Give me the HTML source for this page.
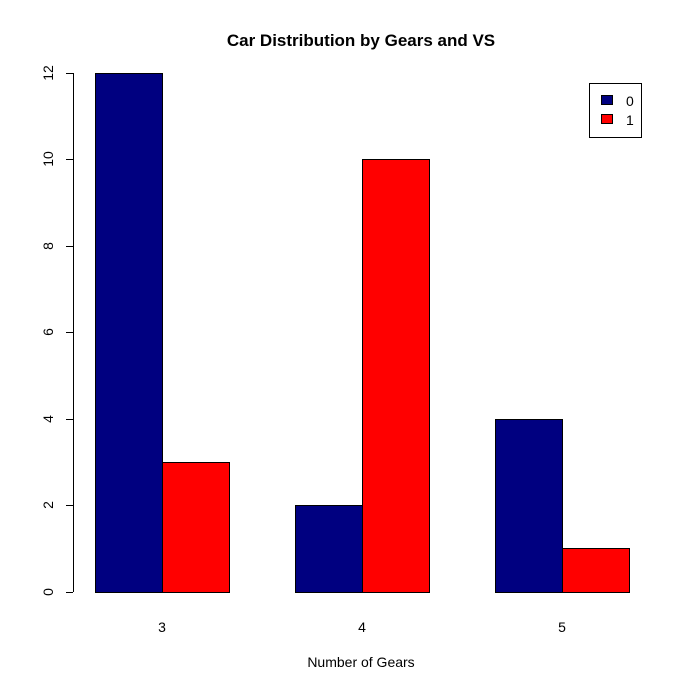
<!DOCTYPE html>
<html><head><style>body{margin:0;background:#fff}</style></head><body>
<svg width="689" height="689" xmlns="http://www.w3.org/2000/svg" font-family="Liberation Sans, Arial, sans-serif">
<rect width="689" height="689" fill="#fff"/>
<text x="361" y="46" text-anchor="middle" font-weight="bold" font-size="17">Car Distribution by Gears and VS</text>
<g stroke="#000" stroke-width="1">
<rect x="95.5" y="73.5" width="67" height="519" fill="#000080"/>
<rect x="162.5" y="462.5" width="67" height="130" fill="#ff0000"/>
<rect x="295.5" y="505.5" width="67" height="87" fill="#000080"/>
<rect x="362.5" y="159.5" width="67" height="433" fill="#ff0000"/>
<rect x="495.5" y="419.5" width="67" height="173" fill="#000080"/>
<rect x="562.5" y="548.5" width="67" height="44" fill="#ff0000"/>
<line x1="73.5" y1="73" x2="73.5" y2="592"/>
<line x1="66" y1="592.5" x2="73" y2="592.5"/>
<line x1="66" y1="505.5" x2="73" y2="505.5"/>
<line x1="66" y1="419.5" x2="73" y2="419.5"/>
<line x1="66" y1="332.5" x2="73" y2="332.5"/>
<line x1="66" y1="246.5" x2="73" y2="246.5"/>
<line x1="66" y1="159.5" x2="73" y2="159.5"/>
<line x1="66" y1="73.5" x2="73" y2="73.5"/>
<rect x="589.5" y="83.5" width="52" height="54" fill="#fff"/>
<rect x="601.5" y="95.5" width="11" height="9" fill="#000080"/>
<rect x="601.5" y="114.5" width="11" height="9" fill="#ff0000"/>
</g>
<g font-size="14" text-anchor="middle">
<text transform="translate(53,592) rotate(-90)">0</text>
<text transform="translate(53,505) rotate(-90)">2</text>
<text transform="translate(53,419) rotate(-90)">4</text>
<text transform="translate(53,332) rotate(-90)">6</text>
<text transform="translate(53,246) rotate(-90)">8</text>
<text transform="translate(53,159) rotate(-90)">10</text>
<text transform="translate(53,73) rotate(-90)">12</text>
<text x="162" y="632">3</text>
<text x="362" y="632">4</text>
<text x="562" y="632">5</text>
<text x="361" y="667">Number of Gears</text>
</g>
<text x="626" y="106" font-size="14">0</text>
<text x="626" y="125" font-size="14">1</text>
</svg>
</body></html>
